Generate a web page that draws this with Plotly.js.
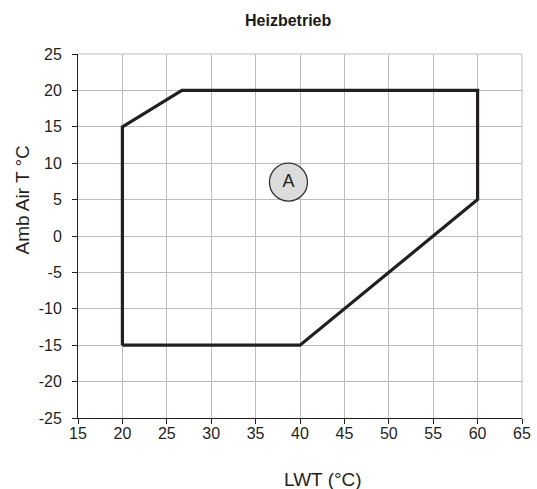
<!DOCTYPE html>
<html><head><meta charset="utf-8">
<script src="https://cdn.plot.ly/plotly-3.0.1.min.js"></script>
<style>html,body{margin:0;padding:0;background:#fff}</style>
</head><body><div id="chart" style="width:537px;height:489px"></div>
<script>
const envelopeLWT = [20, 20, 26.7, 60, 60, 40, 20];
const envelopeAmb = [-15, 15, 20, 20, 5, -15, -15];
const labelLWT = [38.7];
const labelAmb = [7.4];
const labelText = ['A'];
const xTicks = [15,20,25,30,35,40,45,50,55,60,65];
const yTicks = [-25,-20,-15,-10,-5,0,5,10,15,20,25];
const chartTitle = 'Heizbetrieb';
const xTitle = 'LWT (°C)';
const yTitle = 'Amb Air T °C';

const FONT = 'Liberation Sans, Arial, sans-serif';
const traces = [
  {x: envelopeLWT, y: envelopeAmb, mode: 'lines', line: {color: '#231f20', width: 3.2}, hoverinfo: 'skip', cliponaxis: false},
  {x: labelLWT, y: labelAmb, mode: 'markers+text', text: labelText, textposition: 'middle center',
   textfont: {family: FONT, size: 18, color: '#231f20'},
   marker: {size: 38, color: '#dcdcdc', line: {color: '#333', width: 1.3}}, hoverinfo: 'skip'}
];
const grid = '#bdbdbd';
const layout = {
  width: 537, height: 489,
  margin: {l: 78, r: 15, t: 54, b: 71},
  paper_bgcolor: '#fff', plot_bgcolor: '#fff',
  showlegend: false,
  font: {family: FONT, color: '#231f20'},
  xaxis: {range: [15, 65], tickvals: xTicks, ticktext: xTicks.map(String), showgrid: true, gridcolor: grid, gridwidth: 1,
    zeroline: false, showline: true, linecolor: '#231f20', linewidth: 1, ticks: 'outside', ticklen: 5, tickcolor: '#231f20',
    tickfont: {size: 16}, ticklabelstandoff: -4, fixedrange: true},
  yaxis: {range: [-25, 25], tickvals: yTicks, ticktext: yTicks.map(String), showgrid: true, gridcolor: grid, gridwidth: 1,
    zeroline: false, showline: true, linecolor: '#231f20', linewidth: 1, ticks: 'outside', ticklen: 5, tickcolor: '#231f20',
    tickfont: {size: 16}, ticklabelstandoff: 7, fixedrange: true},
  annotations: [
    {text: '<b>' + chartTitle + '</b>', xref: 'paper', yref: 'paper', x: 0.472, y: 1, yshift: 34, xanchor: 'center', yanchor: 'middle', showarrow: false, font: {size: 16, color: '#1a1a1a'}},
    {text: xTitle, xref: 'paper', yref: 'paper', x: 0.552, y: 0, yshift: -61, xanchor: 'center', yanchor: 'middle', showarrow: false, font: {size: 19, color: '#231f20'}},
    {text: yTitle, xref: 'paper', yref: 'paper', x: 0, xshift: -55, y: 0.5975, xanchor: 'center', yanchor: 'middle', textangle: -90, showarrow: false, font: {size: 19, color: '#231f20'}}
  ],
  shapes: [
    {type: 'line', xref: 'paper', yref: 'paper', x0: 0, x1: 1, y0: 1, y1: 1, line: {color: grid, width: 1}},
    {type: 'line', xref: 'paper', yref: 'paper', x0: 1, x1: 1, y0: 0, y1: 1, line: {color: grid, width: 1}}
  ]
};
Plotly.newPlot('chart', traces, layout, {staticPlot: true, displayModeBar: false});
</script></body></html>
